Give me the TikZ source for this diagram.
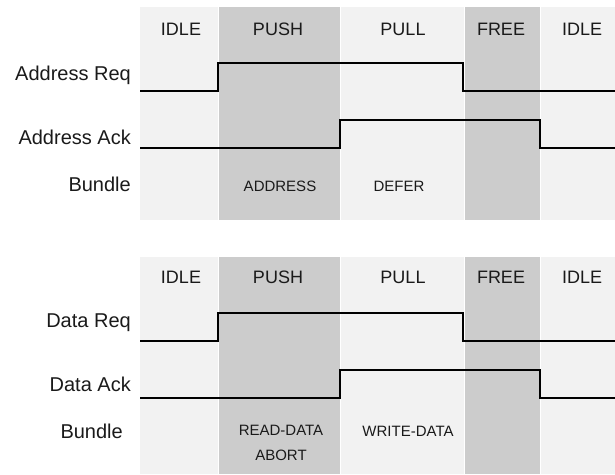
\documentclass[tikz,border=0pt]{standalone}
\usepackage{fontspec}
\setmainfont{Liberation Sans}
\usepackage{xcolor}
\definecolor{lightcol}{HTML}{F2F2F2}
\definecolor{darkcol}{HTML}{CCCCCC}
\definecolor{inkcol}{HTML}{1A1A1A}
\tikzset{
  phase/.style={text=inkcol, font=\fontsize{18}{21}\selectfont},
  signame/.style={text=inkcol, anchor=east, inner sep=0pt, font=\fontsize{20}{24}\selectfont},
  bundleval/.style={text=inkcol, font=\fontsize{15}{25}\selectfont, align=center},
  wave/.style={black, line width=2pt},
  gapline/.style={white, line width=1pt}
}

\begin{document}
\begin{tikzpicture}[x=1pt,y=-1pt]
\useasboundingbox (0,0) rectangle (615,474);

% address handshake
\begin{scope}
\fill[lightcol] (140,7) rectangle (615,220);
\fill[darkcol] (218,7) rectangle (340,220);
\fill[darkcol] (464,7) rectangle (540,220);
\draw[gapline] (218,7) -- (218,220);
\draw[gapline] (340,7) -- (340,220);
\draw[gapline] (464,7) -- (464,220);
\draw[gapline] (540,7) -- (540,220);

\draw[wave] (140,91) -- (218,91) -- (218,63) -- (463,63) -- (463,91) -- (615,91);
\draw[wave] (140,148) -- (340,148) -- (340,120) -- (540,120) -- (540,148) -- (615,148);

% nodes
{
\node[phase] (aidle) at (181,29) {IDLE};
\node[phase] (apush) at (278,29) {PUSH};
\node[phase] (apull) at (403,29) {PULL};
\node[phase] (afree) at (501,29) {FREE};
\node[phase] (aidlex) at (582,29) {IDLE};

\node[signame] (areq) at (131,75) {Address Req};
\node[signame] (aack) at (131,137) {Address Ack};
\node[signame] (abun) at (131,184) {Bundle};

\node[bundleval] (aaddr) at (280,186) {ADDRESS};
\node[bundleval] (adefer) at (399,186) {DEFER};
}
\end{scope}

% data handshake
\begin{scope}[yshift=-250pt]
\fill[lightcol] (140,7) rectangle (615,223.5);
\fill[darkcol] (218,7) rectangle (340,223.5);
\fill[darkcol] (464,7) rectangle (540,223.5);
\draw[gapline] (218,7) -- (218,223.5);
\draw[gapline] (340,7) -- (340,223.5);
\draw[gapline] (464,7) -- (464,223.5);
\draw[gapline] (540,7) -- (540,223.5);

\draw[wave] (140,91) -- (218,91) -- (218,63) -- (463,63) -- (463,91) -- (615,91);
\draw[wave] (140,148) -- (340,148) -- (340,120) -- (540,120) -- (540,148) -- (615,148);

% nodes
{
\node[phase] (didle) at (181,27) {IDLE};
\node[phase] (dpush) at (278,27) {PUSH};
\node[phase] (dpull) at (403,27) {PULL};
\node[phase] (dfree) at (501,27) {FREE};
\node[phase] (didlex) at (582,27) {IDLE};

\node[signame] (dreq) at (131,73) {Data Req};
\node[signame] (dack) at (131,134) {Data Ack};
\node[signame] (dbun) at (123,181) {Bundle};

\node[bundleval] (dread) at (281,193) {READ-DATA\\ABORT};
\node[bundleval] (dwrite) at (408,181) {WRITE-DATA};
}
\end{scope}

\end{tikzpicture}
\end{document}
